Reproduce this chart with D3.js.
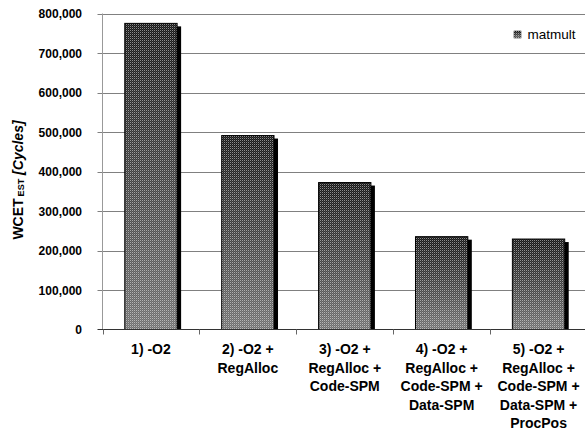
<!DOCTYPE html>
<html>
<head>
<meta charset="utf-8">
<script src="https://cdn.jsdelivr.net/npm/d3@7"></script>
<style>
  html, body { margin: 0; padding: 0; background: #fff; }
  svg { display: block; font-family: "Liberation Sans", Arial, sans-serif; }
</style>
</head>
<body>
<svg id="chart" width="585" height="431"></svg>
<script>
// WCET estimates for matmult under successive optimisation stages
const categories = [
  ["1) -O2"],
  ["2) -O2 +", "RegAlloc"],
  ["3) -O2 +", "RegAlloc +", "Code-SPM"],
  ["4) -O2 +", "RegAlloc +", "Code-SPM +", "Data-SPM"],
  ["5) -O2 +", "RegAlloc +", "Code-SPM +", "Data-SPM +", "ProcPos"]
];
const matmult = [775000, 491000, 372000, 235000, 229000];
const yTicks = [0, 100000, 200000, 300000, 400000, 500000, 600000, 700000, 800000];
const seriesName = "matmult";

const svg = d3.select("#chart");
const plotLeft = 102.5, plotRight = 587, plotTop = 13.5, plotBottom = 329.5;

const x = d3.scaleBand().domain(d3.range(categories.length)).range([plotLeft, plotRight])
  .paddingInner(0.46).paddingOuter(0.23);
const xb = d3.scaleBand().domain(d3.range(categories.length)).range([plotLeft, plotRight]);
const y = d3.scaleLinear().domain([0, 800000]).range([plotBottom, plotTop]);

// Fill: dark-to-light gradient with a fine dot texture on top
const defs = svg.append("defs");
const grad = defs.append("linearGradient").attr("id", "barGrad")
  .attr("x1", 0).attr("y1", 0).attr("x2", 0).attr("y2", 1);
grad.append("stop").attr("offset", "0%").attr("stop-color", "#161616");
grad.append("stop").attr("offset", "45%").attr("stop-color", "#3c3c3c");
grad.append("stop").attr("offset", "100%").attr("stop-color", "#727272");

const tex = defs.append("pattern").attr("id", "barTex")
  .attr("patternUnits", "userSpaceOnUse").attr("width", 2).attr("height", 2);
tex.append("rect").attr("x", 0).attr("y", 0).attr("width", 1).attr("height", 1)
  .attr("fill", "#fff").attr("fill-opacity", 0.5);
tex.append("rect").attr("x", 1).attr("y", 1).attr("width", 1).attr("height", 1)
  .attr("fill", "#fff").attr("fill-opacity", 0.15);

// Gridlines and y-axis ticks
svg.append("g").selectAll("line").data(yTicks.filter(d => d > 0)).join("line")
  .attr("x1", plotLeft - 5).attr("x2", plotRight)
  .attr("y1", d => Math.round(y(d)) + 0.5).attr("y2", d => Math.round(y(d)) + 0.5)
  .attr("stroke", "#808080").attr("stroke-width", 1);

svg.append("line")
  .attr("x1", plotLeft).attr("x2", plotLeft).attr("y1", plotTop).attr("y2", plotBottom)
  .attr("stroke", "#999").attr("stroke-width", 1);

// Y tick labels
svg.append("g").selectAll("text").data(yTicks).join("text")
  .attr("x", 82).attr("y", d => y(d) + 4.5)
  .attr("text-anchor", "end")
  .attr("font-size", 12).attr("font-weight", "bold").attr("fill", "#000")
  .text(d => d3.format(",")(d));

// Bars with drop shadow
const bars = svg.append("g");
bars.selectAll("rect.shadow").data(matmult).join("rect").attr("class", "shadow")
  .attr("x", (d, i) => x(i) + 4).attr("y", d => y(d) + 3)
  .attr("width", x.bandwidth()).attr("height", d => plotBottom - y(d) - 3)
  .attr("fill", "#000");
bars.selectAll("rect.bar").data(matmult).join("rect").attr("class", "bar")
  .attr("x", (d, i) => x(i)).attr("y", d => y(d))
  .attr("width", x.bandwidth()).attr("height", d => plotBottom - y(d))
  .attr("fill", "url(#barGrad)").attr("stroke", "#000").attr("stroke-width", 1);
bars.selectAll("rect.tex").data(matmult).join("rect").attr("class", "tex")
  .attr("x", (d, i) => x(i) + 0.5).attr("y", d => y(d) + 0.5)
  .attr("width", x.bandwidth() - 1).attr("height", d => plotBottom - y(d) - 1)
  .attr("fill", "url(#barTex)");

// X axis line and category separators
svg.append("line")
  .attr("x1", plotLeft - 5).attr("x2", plotRight).attr("y1", plotBottom).attr("y2", plotBottom)
  .attr("stroke", "#333").attr("stroke-width", 1);
svg.append("g").selectAll("line").data(d3.range(categories.length + 1)).join("line")
  .attr("x1", i => Math.round(plotLeft + i * xb.step()) + 0.5)
  .attr("x2", i => Math.round(plotLeft + i * xb.step()) + 0.5)
  .attr("y1", plotBottom).attr("y2", plotBottom + 5)
  .attr("stroke", "#666").attr("stroke-width", 1);

// Category labels
const xl = svg.append("g").selectAll("text").data(categories).join("text")
  .attr("text-anchor", "middle")
  .attr("font-size", 14).attr("font-weight", "bold").attr("fill", "#000");
xl.each(function(lines, i) {
  const t = d3.select(this);
  lines.forEach((ln, k) => {
    t.append("tspan").attr("x", xb(i) + xb.bandwidth() / 2)
      .attr("y", 354 + k * 18.6).text(ln);
  });
});

// Y axis title
const yt = svg.append("text")
  .attr("transform", "translate(23,180) rotate(-90)")
  .attr("text-anchor", "middle")
  .attr("font-size", 14).attr("font-weight", "bold").attr("fill", "#000");
yt.append("tspan").text("WCET");
yt.append("tspan").attr("font-size", 9).attr("dx", 2).attr("dy", 1).text("EST");
yt.append("tspan").attr("dy", -1).attr("dx", 4).attr("font-style", "italic").text("[Cycles]");

// Legend
const lg = svg.append("g").attr("transform", "translate(514,31)");
lg.append("rect").attr("width", 7).attr("height", 7)
  .attr("fill", "url(#barGrad)").attr("stroke", "#000").attr("stroke-width", 0.5);
lg.append("rect").attr("width", 7).attr("height", 7).attr("fill", "url(#barTex)");
lg.append("text").attr("x", 13.5).attr("y", 7.5)
  .attr("font-size", 13.5).attr("fill", "#000").text(seriesName);
</script>
</body>
</html>
